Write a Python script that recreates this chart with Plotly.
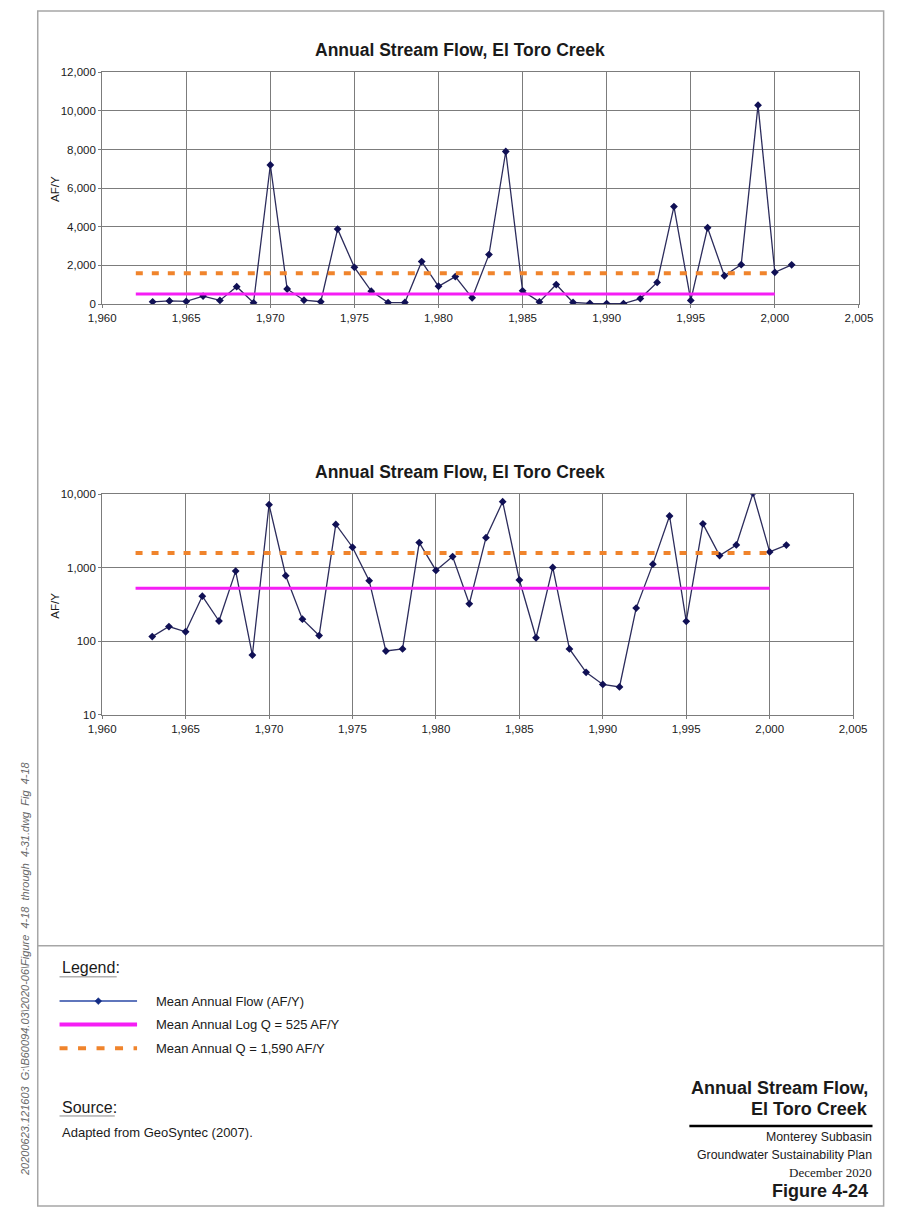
import plotly.graph_objects as go

# ---- data -------------------------------------------------------------
years = list(range(1963, 2002))
flow_afy = [116, 159, 135, 411, 189, 900, 65, 7200, 780, 200,
            120, 3880, 1900, 668, 74, 79, 2200, 920, 1420, 324,
            2560, 7900, 682, 112, 1010, 79, 38, 26, 24, 283,
            1120, 5050, 187, 3950, 1465, 2040, 10300, 1640, 2030]

mean_span_years = [1962, 2000]
mean_log_q = 525      # AF/Y
mean_q = 1590         # AF/Y

chart_title = "Annual Stream Flow, El Toro Creek"
y_title = "AF/Y"
legend_labels = [
    "Mean Annual Flow (AF/Y)",
    f"Mean Annual Log Q = {mean_log_q:,} AF/Y",
    f"Mean Annual Q = {mean_q:,} AF/Y",
]
source_text = "Adapted from GeoSyntec (2007)."
block_title = ["Annual Stream Flow,", "El Toro Creek"]
block_lines = ["Monterey Subbasin", "Groundwater Sustainability Plan"]
block_date = "December 2020"
figure_no = "Figure 4-24"
NB = "\u00a0"
side_text = (f"20200623.121603{NB}{NB}G:\\B60094.03\\2020-06\\Figure{NB}{NB}4-18{NB}{NB}"
             f"through{NB}{NB}4-31.dwg{NB}{NB}Fig{NB}{NB}4-18")

# ---- page geometry helpers (pixel -> paper) ---------------------------
W, H = 902, 1220


def fx(x):
    return x / W


def fy(y):
    return 1 - y / H


SANS = "Liberation Sans, Arial, sans-serif"
SERIF = "Liberation Serif, Times New Roman, serif"
NAVY = "#101055"
DATA_LINE = "#2c2c5c"
MAGENTA = "#f51ef5"
ORANGE = "#f0842c"
GRID = "#7c7c7c"
FRAME = "#a6a6a6"
TEXT = "#1a1a1a"

fig = go.Figure()

for xa, ya in (("x", "y"), ("x2", "y2")):
    fig.add_trace(go.Scatter(
        x=years, y=flow_afy, xaxis=xa, yaxis=ya, mode="lines+markers",
        line=dict(color=DATA_LINE, width=1.3),
        marker=dict(symbol="diamond", size=6, color=NAVY),
        showlegend=False, name=legend_labels[0]))
    fig.add_trace(go.Scatter(
        x=mean_span_years, y=[mean_log_q] * 2, xaxis=xa, yaxis=ya, mode="lines",
        line=dict(color=MAGENTA, width=3), showlegend=False, name=legend_labels[1]))
    fig.add_trace(go.Scatter(
        x=mean_span_years, y=[mean_q] * 2, xaxis=xa, yaxis=ya, mode="lines",
        line=dict(color=ORANGE, width=4, dash="7px,9px"), showlegend=False,
        name=legend_labels[2]))

axis_common = dict(
    showgrid=True, gridcolor=GRID, gridwidth=1,
    showline=True, linecolor=GRID, linewidth=1, mirror=True,
    ticks="outside", ticklen=3, tickcolor=GRID,
    tickfont=dict(family=SANS, size=11.5, color=TEXT),
    zeroline=False, tickformat=",d",
)

fig.update_layout(
    width=W, height=H, autosize=False,
    margin=dict(l=0, r=0, t=0, b=0, pad=0),
    paper_bgcolor="white", plot_bgcolor="white",
    showlegend=False,
    xaxis=dict(axis_common, domain=[fx(91), fx(872)], range=[1960, 2005],
               tick0=1960, dtick=5, anchor="y"),
    yaxis=dict(axis_common, domain=[fy(301), fy(67)], range=[0, 12000],
               dtick=2000, anchor="x"),
    xaxis2=dict(axis_common, domain=[fx(91), fx(866)], range=[1960, 2005],
                tick0=1960, dtick=5, anchor="y2"),
    yaxis2=dict(axis_common, domain=[fy(716), fy(493)], type="log",
                range=[1, 4], dtick=1, anchor="x2"),
)

annotations = []


def label(text, x, y, size, xanchor="center", yanchor="middle", family=SANS,
          angle=0, color=TEXT):
    annotations.append(dict(
        text=text, x=fx(x), y=fy(y), xref="paper", yref="paper",
        xanchor=xanchor, yanchor=yanchor, showarrow=False, textangle=angle,
        font=dict(family=family, size=size, color=color)))


# chart titles and axis titles
label(f"<b>{chart_title}</b>", 460, 44.5, 17.5)
label(f"<b>{chart_title}</b>", 460, 470.5, 17.5)
label(y_title, 42, 185, 11.5, angle=-90)
label(y_title, 42, 606, 11.5, angle=-90)

# legend block
label("Legend:", 47, 971, 16, xanchor="left")
legend_rows = [1005, 1028.5, 1052.5]
for text, yy in zip(legend_labels, legend_rows):
    label(text, 145, yy, 13, xanchor="left")
label("Source:", 47, 1112, 16, xanchor="left")
label(source_text, 47, 1137.5, 13, xanchor="left")

# title block
label(f"<b>{block_title[0]}</b>", 883, 1093, 18, xanchor="right")
label(f"<b>{block_title[1]}</b>", 883, 1114, 18, xanchor="right")
label(block_lines[0], 888, 1142.5, 12.3, xanchor="right")
label(block_lines[1], 888, 1160.5, 12.3, xanchor="right")
label(block_date, 888, 1178.5, 13, xanchor="right", family=SERIF)
label(f"<b>{figure_no}</b>", 883, 1196.5, 18, xanchor="right")

# drawing reference along the left edge
label(f"<i>{side_text}</i>", 12, 972, 11, angle=-90, color="#6a6a6a")

shapes = []


def hline(x0, x1, y, color, width, dash=None):
    line = dict(color=color, width=width)
    if dash:
        line["dash"] = dash
    shapes.append(dict(type="line", xref="paper", yref="paper",
                       x0=fx(x0), x1=fx(x1), y0=fy(y), y1=fy(y), line=line))


# page frame and divider
shapes.append(dict(type="rect", xref="paper", yref="paper",
                   x0=fx(24.5), x1=fx(897.5), y0=fy(1212), y1=fy(5),
                   line=dict(color=FRAME, width=1.5), fillcolor="rgba(0,0,0,0)"))
hline(24.5, 897.5, 949, FRAME, 1.5)

# legend samples
hline(47, 127, legend_rows[0], "#2a48a6", 1.5)
cx, cy, r = 87, legend_rows[0], 3.5
shapes.append(dict(
    type="path", xref="paper", yref="paper",
    path=(f"M {fx(cx)} {fy(cy - r)} L {fx(cx + r)} {fy(cy)} "
          f"L {fx(cx)} {fy(cy + r)} L {fx(cx - r)} {fy(cy)} Z"),
    fillcolor="#132c84", line=dict(color="#132c84", width=0.5)))
hline(47, 127, legend_rows[1], MAGENTA, 4)
hline(47, 127, legend_rows[2], ORANGE, 4, dash="8px,10.5px")

# underlines for the block headings
hline(47, 106, 980.5, "#8a8a8a", 1)
hline(47, 104, 1121, "#8a8a8a", 1)

# rule in the title block
hline(697, 886, 1131, "#000000", 2.5)

fig.update_layout(annotations=annotations, shapes=shapes)

fig.write_html("out.html")
